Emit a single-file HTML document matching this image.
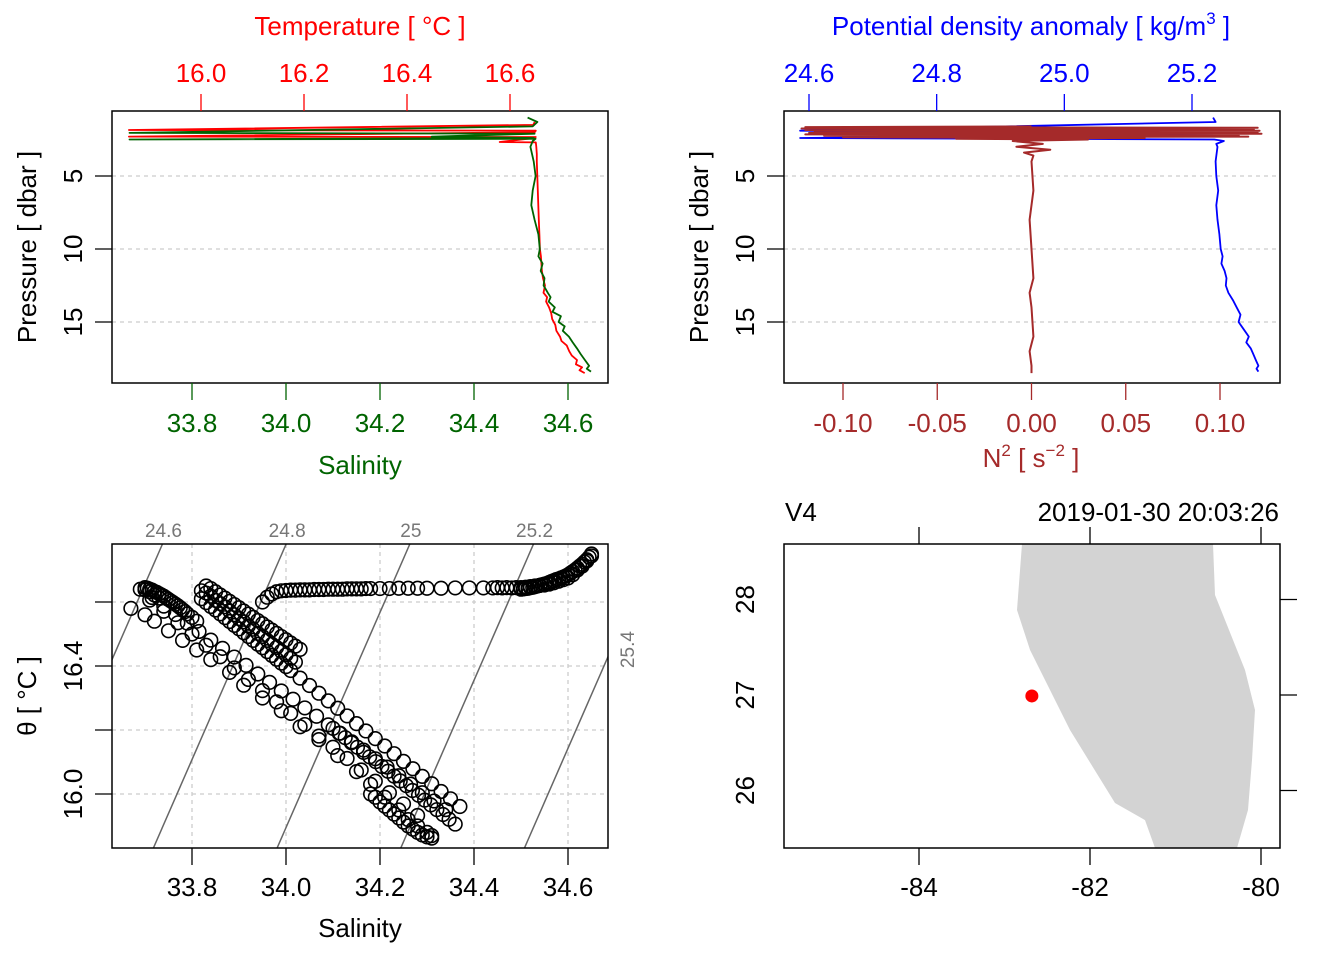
<!DOCTYPE html>
<html><head><meta charset="utf-8"><style>
html,body{margin:0;padding:0;background:#fff}
svg{display:block;font-family:"Liberation Sans",sans-serif}
</style></head><body>
<svg id="s" width="1344" height="960" viewBox="0 0 1344 960"></svg>
<script>
// ---------- data ----------
const tPres=[1.3,1.5,1.85,1.9,2.0,2.3,2.33,2.4,2.67,2.7,3,3.5,4,5,6,7,8,9,10,10.5,11,11.5,12,12.5,13,13.3,13.6,14,14.4,14.8,15.2,15.6,16,16.3,16.6,17,17.3,17.6,17.9,18.1,18.3,18.5];
const tVal=[16.648,16.645,15.86,16.65,16.648,15.86,16.65,16.648,16.58,16.65,16.651,16.652,16.652,16.653,16.654,16.655,16.656,16.657,16.658,16.66,16.661,16.662,16.664,16.668,16.665,16.672,16.67,16.676,16.68,16.682,16.688,16.69,16.697,16.70,16.71,16.715,16.72,16.73,16.728,16.74,16.735,16.745];
const sPres=[1.0,1.3,1.6,2.05,2.1,2.3,2.4,2.5,2.45,2.6,3,4,5,6,7,8,9,10,10.5,11,11.5,12,12.5,13,13.3,13.6,14,14.3,14.6,15,15.3,15.6,16,16.4,16.8,17.2,17.6,18,18.2,18.4];
const sVal=[34.514,34.535,34.525,33.667,34.529,34.310,34.527,33.667,34.531,34.525,34.520,34.527,34.531,34.525,34.522,34.529,34.537,34.540,34.537,34.546,34.542,34.550,34.548,34.557,34.563,34.559,34.572,34.567,34.585,34.580,34.593,34.589,34.602,34.610,34.619,34.627,34.636,34.645,34.640,34.649];
const sigPres=[1.0,1.3,1.9,2.1,2.4,2.5,2.6,2.8,3,4,5,6,7,8,9,10,10.5,11,11.5,12,12.5,13,13.5,14,14.5,15,15.5,16,16.4,16.8,17.2,17.6,18,18.2,18.4];
const sigVal=[25.233,25.237,24.586,25.232,24.586,25.235,25.250,25.238,25.240,25.237,25.238,25.241,25.238,25.240,25.243,25.245,25.248,25.246,25.251,25.254,25.253,25.257,25.264,25.270,25.276,25.273,25.281,25.289,25.285,25.292,25.296,25.300,25.304,25.301,25.304];
const n2Pres=[1.6,1.65,1.7,1.75,1.8,1.85,1.9,1.95,2.0,2.05,2.1,2.15,2.2,2.25,2.3,2.35,2.4,2.45,2.5,2.6,2.8,3.0,3.2,3.4,3.6,4,6,8,10,12,13,14,16,17,18,18.5];
const n2Val=[0.0,-0.12,0.12,-0.122,0.118,-0.12,0.121,-0.115,0.12,-0.118,0.122,-0.12,0.11,-0.11,0.115,-0.1,0.06,-0.04,0.03,-0.01,0.006,-0.008,0.01,-0.004,0.001,0,0.001,-0.001,0,0.001,-0.001,0,0.001,-0.001,0,0];
// T-S tracks
const tsSalA=[33.95,33.96,33.97,33.98,33.99,34.00,34.01,34.02,34.03,34.04,34.05,34.06,34.07,34.08,34.09,34.10,34.11,34.12,34.13,34.14,34.15,34.16,34.17,34.18,34.20,34.22,34.24,34.26,34.28,34.30,34.33,34.36,34.39,34.42,34.44,34.45,34.46,34.47,34.48,34.49,34.50,34.51,34.52,34.53,34.54,34.55,34.56,34.57,34.58,34.59,34.60,34.61,34.62,34.63,34.64,34.65];
const tsThA=[16.60,16.615,16.625,16.632,16.635,16.636,16.637,16.637,16.638,16.638,16.638,16.639,16.639,16.639,16.640,16.640,16.640,16.640,16.641,16.641,16.641,16.641,16.642,16.642,16.642,16.642,16.643,16.643,16.643,16.643,16.643,16.644,16.644,16.644,16.644,16.645,16.644,16.645,16.644,16.645,16.645,16.646,16.648,16.650,16.652,16.653,16.656,16.660,16.665,16.670,16.675,16.685,16.700,16.712,16.728,16.744];
const tsSalA2=[34.50,34.505,34.51,34.515,34.52,34.525,34.53,34.535,34.54,34.545,34.55,34.555,34.56,34.565,34.57,34.575,34.58,34.585,34.59,34.595,34.60,34.605,34.61,34.615,34.62,34.625,34.63,34.635,34.64,34.645,34.65];
const tsThA2=[16.640,16.641,16.642,16.643,16.645,16.646,16.648,16.650,16.652,16.654,16.656,16.658,16.661,16.664,16.667,16.670,16.672,16.675,16.678,16.681,16.685,16.690,16.695,16.700,16.706,16.712,16.718,16.725,16.732,16.740,16.750];
const tsSalE=[33.82,33.83,33.84,33.85,33.86,33.87,33.88,33.89,33.90,33.91,33.92,33.93,33.94,33.95,33.96,33.97,33.98,33.99,34.00,34.01,34.03,34.05,34.07,34.09,34.11,34.13,34.15,34.17,34.19,34.21,34.23,34.25,34.27,34.29,34.31,34.33,34.35,34.37];
const tsThE=[16.610,16.598,16.586,16.575,16.563,16.551,16.539,16.527,16.516,16.504,16.492,16.480,16.468,16.457,16.445,16.433,16.421,16.409,16.398,16.386,16.362,16.339,16.315,16.291,16.268,16.244,16.220,16.197,16.173,16.150,16.126,16.102,16.079,16.055,16.032,16.008,15.985,15.961];
const tsSalE2=[33.82,33.83,33.84,33.85,33.86,33.87,33.88,33.89,33.90,33.91,33.92,33.93,33.94,33.95,33.96,33.97,33.98,33.99,34.00,34.01,34.02];
const tsThE2=[16.635,16.628,16.618,16.605,16.595,16.585,16.572,16.560,16.548,16.538,16.525,16.515,16.502,16.492,16.480,16.468,16.458,16.446,16.435,16.424,16.412];
const tsSalH=[33.83,33.84,33.85,33.86,33.87,33.88,33.89,33.90,33.91,33.92,33.93,33.94,33.95,33.96,33.97,33.98,33.99,34.00,34.01,34.02,34.03];
const tsThH=[16.650,16.642,16.632,16.622,16.612,16.602,16.592,16.582,16.572,16.562,16.552,16.542,16.532,16.522,16.512,16.502,16.492,16.482,16.472,16.462,16.452];
const tsSalG=[33.70,33.705,33.71,33.715,33.72,33.725,33.73,33.735,33.74,33.745,33.75,33.755,33.76,33.765,33.77,33.775,33.78,33.785,33.79,33.80,33.81];
const tsThG=[16.645,16.643,16.640,16.637,16.633,16.630,16.626,16.622,16.618,16.613,16.608,16.603,16.598,16.593,16.588,16.582,16.576,16.570,16.563,16.552,16.540];
const tsSalD=[33.69,33.70,33.71,33.715,33.72,33.73,33.74,33.765,33.79,33.815,33.84,33.865,33.89,33.915,33.94,33.965,33.99,34.015,34.04,34.065,34.09,34.115,34.14,34.165,34.19,34.215,34.24,34.265,34.29,34.315,34.34];
const tsThD=[16.640,16.638,16.632,16.614,16.622,16.612,16.587,16.561,16.534,16.508,16.481,16.455,16.428,16.402,16.375,16.349,16.322,16.296,16.269,16.243,16.216,16.190,16.163,16.137,16.110,16.084,16.057,16.031,16.004,15.978,15.951];
const tsSalF=[33.71,33.74,33.77,33.80,33.83,33.86,33.89,33.92,33.95,33.98,34.01,34.04,34.07,34.10,34.13,34.16,34.19,34.22,34.25,34.28];
const tsThF=[16.606,16.571,16.535,16.500,16.465,16.429,16.394,16.358,16.323,16.288,16.252,16.217,16.181,16.146,16.111,16.075,16.040,16.004,15.969,15.933];
const tsSalI=[34.10,34.113,34.126,34.139,34.152,34.165,34.178,34.191,34.204,34.217,34.23,34.243,34.256,34.269,34.282,34.295,34.308,34.321,34.334,34.347,34.36];
const tsThI=[16.205,16.190,16.176,16.160,16.146,16.130,16.116,16.101,16.086,16.071,16.056,16.041,16.026,16.011,15.996,15.981,15.966,15.951,15.936,15.921,15.906];
const tsSalJ=[34.18,34.19,34.20,34.21,34.22,34.23,34.24,34.25,34.26,34.27,34.28,34.29,34.30,34.31];
const tsThJ=[16.00,15.99,15.975,15.962,15.950,15.937,15.925,15.912,15.900,15.890,15.880,15.872,15.866,15.862];
const tsSalC=[33.67,33.70,33.72,33.75,33.78,33.81,33.84,33.88,33.91,33.95,33.99,34.03,34.07,34.11,34.15,34.18,34.21,34.24,34.26,34.28,34.30,34.31];
const tsThC=[16.58,16.56,16.54,16.51,16.48,16.45,16.42,16.38,16.34,16.30,16.26,16.21,16.17,16.12,16.07,16.03,15.99,15.95,15.92,15.90,15.88,15.87];
const isoLevels=[24.6,24.8,25.0,25.2,25.4];
const isoLabels=["24.6","24.8","25","25.2","25.4"];
// map
const coastLon=[-82.76,-82.795,-82.854,-82.70,-82.234,-81.708,-81.357,-81.24,-81.2,-80.25,-80.281,-80.152,-80.105,-80.07,-80.187,-80.538,-80.561,-80.55];
const coastLat=[29.0,28.581,27.89,27.47,26.633,25.869,25.69,25.398,25.0,25.0,25.398,25.796,26.319,26.843,27.262,28.047,28.581,29.0];
const stnLon=[-82.68], stnLat=[26.99];

// ---------- helpers ----------
const NS="http://www.w3.org/2000/svg", svg=document.getElementById('s');
function el(tag,attrs,parent){const e=document.createElementNS(NS,tag);for(const k in attrs)e.setAttribute(k,attrs[k]);(parent||svg).appendChild(e);return e;}
function txt(x,y,s,o,parent){o=o||{};const t=el('text',{x:x,y:y,'font-size':o.fs||26,fill:o.fill||'#000','text-anchor':o.anchor||'middle'},parent);if(o.rot)t.setAttribute('transform','rotate(-90 '+x+' '+y+')');t.textContent=s;return t;}
function lin(d0,d1,r0,r1){return v=>r0+(v-d0)*(r1-r0)/(d1-d0);}
function poly(xs,ys,fx,fy,col,w,parent,name){const p=xs.map((v,i)=>fx(v).toFixed(1)+','+fy(ys[i]).toFixed(1)).join(' ');const e=el('polyline',{points:p,fill:'none',stroke:col,'stroke-width':w,'stroke-linejoin':'round'},parent);return e;}
function clip(id,x,y,w,h){const c=el('clipPath',{id:id});el('rect',{x:x,y:y,width:w,height:h},c);}

// ---------- panel 1 ----------
const P1={x0:112,x1:608,y0:111,y1:383};
const yP=lin(0,1,103,117.6);
const xS=lin(33.8,34.0,192,286);
const xT=lin(16.0,16.2,201,304);
clip('c1',P1.x0,P1.y0,P1.x1-P1.x0,P1.y1-P1.y0);
const g1=el('g',{});
[5,10,15].forEach(p=>{const e=el('line',{x1:P1.x0,x2:P1.x1,y1:yP(p),y2:yP(p),stroke:'#ccc','stroke-dasharray':'4 4','stroke-width':1.3},g1);});
const gc1=el('g',{'clip-path':'url(#c1)'},g1);
poly(tVal,tPres,xT,yP,'#ff0000',1.8,gc1,'temperature-line');
poly(sVal,sPres,xS,yP,'#006400',1.8,gc1,'salinity-line');
el('rect',{x:P1.x0,y:P1.y0,width:P1.x1-P1.x0,height:P1.y1-P1.y0,fill:'none',stroke:'#000','stroke-width':1.5},g1);
[5,10,15].forEach(p=>{el('line',{x1:P1.x0,x2:P1.x0-17,y1:yP(p),y2:yP(p),stroke:'#000','stroke-width':1.3},g1);txt(82,yP(p),String(p),{rot:1},g1);});
txt(36,247,'Pressure [ dbar ]',{rot:1},g1);
["33.8","34.0","34.2","34.4","34.6"].forEach(s=>{const x=xS(+s);el('line',{x1:x,x2:x,y1:P1.y1,y2:P1.y1+17,stroke:'#006400','stroke-width':1.3},g1);txt(x,432,s,{fill:'#006400'},g1);});
txt(360,474,'Salinity',{fill:'#006400'},g1);
["16.0","16.2","16.4","16.6"].forEach(s=>{const x=xT(+s);el('line',{x1:x,x2:x,y1:P1.y0,y2:P1.y0-17,stroke:'#ff0000','stroke-width':1.3},g1);txt(x,82,s,{fill:'#ff0000'},g1);});
txt(360,35,'Temperature [ °C ]',{fill:'#ff0000'},g1);

// ---------- panel 2 ----------
const P2={x0:784,x1:1280,y0:111,y1:383};
const xSig=lin(24.6,25.2,809,1192);
const xN=lin(-0.1,0.1,843,1220);
clip('c2',P2.x0,P2.y0,P2.x1-P2.x0,P2.y1-P2.y0);
const g2=el('g',{});
[5,10,15].forEach(p=>{const e=el('line',{x1:P2.x0,x2:P2.x1,y1:yP(p),y2:yP(p),stroke:'#ccc','stroke-dasharray':'4 4','stroke-width':1.3},g2);});
const gc2=el('g',{'clip-path':'url(#c2)'},g2);
poly(sigVal,sigPres,xSig,yP,'#0000ff',1.8,gc2,'sigma-line');
poly(n2Val,n2Pres,xN,yP,'#a52a2a',2,gc2,'n2-line');
el('rect',{x:P2.x0,y:P2.y0,width:P2.x1-P2.x0,height:P2.y1-P2.y0,fill:'none',stroke:'#000','stroke-width':1.5},g2);
[5,10,15].forEach(p=>{el('line',{x1:P2.x0,x2:P2.x0-17,y1:yP(p),y2:yP(p),stroke:'#000','stroke-width':1.3},g2);txt(754,yP(p),String(p),{rot:1},g2);});
txt(708,247,'Pressure [ dbar ]',{rot:1},g2);
["-0.10","-0.05","0.00","0.05","0.10"].forEach(s=>{const x=xN(+s);el('line',{x1:x,x2:x,y1:P2.y1,y2:P2.y1+17,stroke:'#a52a2a','stroke-width':1.3},g2);txt(x,432,s,{fill:'#a52a2a'},g2);});
{const t=txt(1031,467,'',{fill:'#a52a2a'},g2);t.innerHTML='N<tspan dy="-11" font-size="17">2</tspan><tspan dy="11"> [ s</tspan><tspan dy="-11" font-size="17">−2</tspan><tspan dy="11"> ]</tspan>';}
["24.6","24.8","25.0","25.2"].forEach(s=>{const x=xSig(+s);el('line',{x1:x,x2:x,y1:P2.y0,y2:P2.y0-17,stroke:'#0000ff','stroke-width':1.3},g2);txt(x,82,s,{fill:'#0000ff'},g2);});
{const t=txt(1031,35,'',{fill:'#0000ff'},g2);t.innerHTML='Potential density anomaly [ kg/m<tspan dy="-11" font-size="17">3</tspan><tspan dy="11"> ]</tspan>';}

// ---------- panel 3 (T-S) ----------
const P3={x0:112,x1:608,y0:544,y1:848};
const yTh=lin(16.0,16.4,794,666);
clip('c3',P3.x0,P3.y0,P3.x1-P3.x0,P3.y1-P3.y0);
const g3=el('g',{});
[33.8,34.0,34.2,34.4,34.6].forEach(s=>el('line',{x1:xS(s),x2:xS(s),y1:P3.y0,y2:P3.y1,stroke:'#ccc','stroke-dasharray':'4 4','stroke-width':1.3},g3));
[16.0,16.2,16.4,16.6].forEach(t=>el('line',{x1:P3.x0,x2:P3.x1,y1:yTh(t),y2:yTh(t),stroke:'#ccc','stroke-dasharray':'4 4','stroke-width':1.3},g3));
const gc3=el('g',{'clip-path':'url(#c3)'},g3);
// linearised density: sigma = 24.8 + 0.76(S-34.0) - 0.226(T-16.78)
function salAt(sig,T){return 34.0+(sig-24.8+0.226*(T-16.78))/0.76;}
function thAt(sig,S){return 16.78+(0.76*(S-34.0)-(sig-24.8))/0.226;}
const tTop=16.0+(794-P3.y0)/320, tBot=16.0+(794-P3.y1)/320;
const sRight=33.8+(P3.x1-192)/466.5;
isoLevels.forEach((lv,i)=>{
  const l=el('line',{x1:xS(salAt(lv,tTop)),y1:P3.y0,x2:xS(salAt(lv,tBot)),y2:P3.y1,stroke:'#666','stroke-width':1.5},gc3);
  
  const xt=xS(salAt(lv,tTop));
  if(xt<P3.x1) txt(xt+1,537,isoLabels[i],{fs:19,fill:'#777'},g3);
  else txt(634,yTh(thAt(lv,sRight)),isoLabels[i],{fs:19,fill:'#777',rot:1},g3);
});
[[tsSalA,tsThA],[tsSalA2,tsThA2],[tsSalE,tsThE],[tsSalE2,tsThE2],[tsSalH,tsThH],[tsSalG,tsThG],[tsSalD,tsThD],[tsSalF,tsThF],[tsSalI,tsThI],[tsSalJ,tsThJ],[tsSalC,tsThC]].forEach(tr=>{
  tr[0].forEach((s,i)=>{const c=el('circle',{cx:xS(s),cy:yTh(tr[1][i]),r:6.8,fill:'none',stroke:'#000','stroke-width':1.6},gc3);
  });
});
el('rect',{x:P3.x0,y:P3.y0,width:P3.x1-P3.x0,height:P3.y1-P3.y0,fill:'none',stroke:'#000','stroke-width':1.5},g3);
["33.8","34.0","34.2","34.4","34.6"].forEach(s=>{const x=xS(+s);el('line',{x1:x,x2:x,y1:P3.y1,y2:P3.y1+17,stroke:'#000','stroke-width':1.3},g3);txt(x,896,s,{},g3);});
txt(360,937,'Salinity',{},g3);
[16.0,16.2,16.4,16.6].forEach(t=>el('line',{x1:P3.x0,x2:P3.x0-17,y1:yTh(t),y2:yTh(t),stroke:'#000','stroke-width':1.3},g3));
["16.0","16.4"].forEach(s=>txt(82,yTh(+s),s,{rot:1},g3));
txt(36,696,'θ [ °C ]',{rot:1},g3);

// ---------- panel 4 (map) ----------
const P4={x0:784,x1:1280,y0:544,y1:848};
const xLon=lin(-84,-82,919,1090), yLat=lin(27,28,695,599.5);
clip('c4',P4.x0,P4.y0,P4.x1-P4.x0,P4.y1-P4.y0);
const g4=el('g',{});
const gc4=el('g',{'clip-path':'url(#c4)'},g4);
{const pts=coastLon.map((v,i)=>xLon(v).toFixed(1)+','+yLat(coastLat[i]).toFixed(1)).join(' ');
 const p=el('polygon',{points:pts,fill:'#d3d3d3',stroke:'none'},gc4);}
{const c=el('circle',{cx:xLon(stnLon[0]),cy:yLat(stnLat[0]),r:6.5,fill:'#ff0000'},gc4);}
el('rect',{x:P4.x0,y:P4.y0,width:P4.x1-P4.x0,height:P4.y1-P4.y0,fill:'none',stroke:'#000','stroke-width':1.5},g4);
["-84","-82","-80"].forEach(s=>{const x=xLon(+s);el('line',{x1:x,x2:x,y1:P4.y1,y2:P4.y1+17,stroke:'#000','stroke-width':1.3},g4);el('line',{x1:x,x2:x,y1:P4.y0,y2:P4.y0-17,stroke:'#000','stroke-width':1.3},g4);txt(x,896,s,{},g4);});
["28","27","26"].forEach(s=>{const y=yLat(+s);el('line',{x1:P4.x1,x2:P4.x1+17,y1:y,y2:y,stroke:'#000','stroke-width':1.3},g4);txt(754,y,s,{rot:1},g4);});
txt(785,521,'V4',{anchor:'start'},g4);
txt(1279,521,'2019-01-30 20:03:26',{anchor:'end'},g4);
</script>
</body></html>
